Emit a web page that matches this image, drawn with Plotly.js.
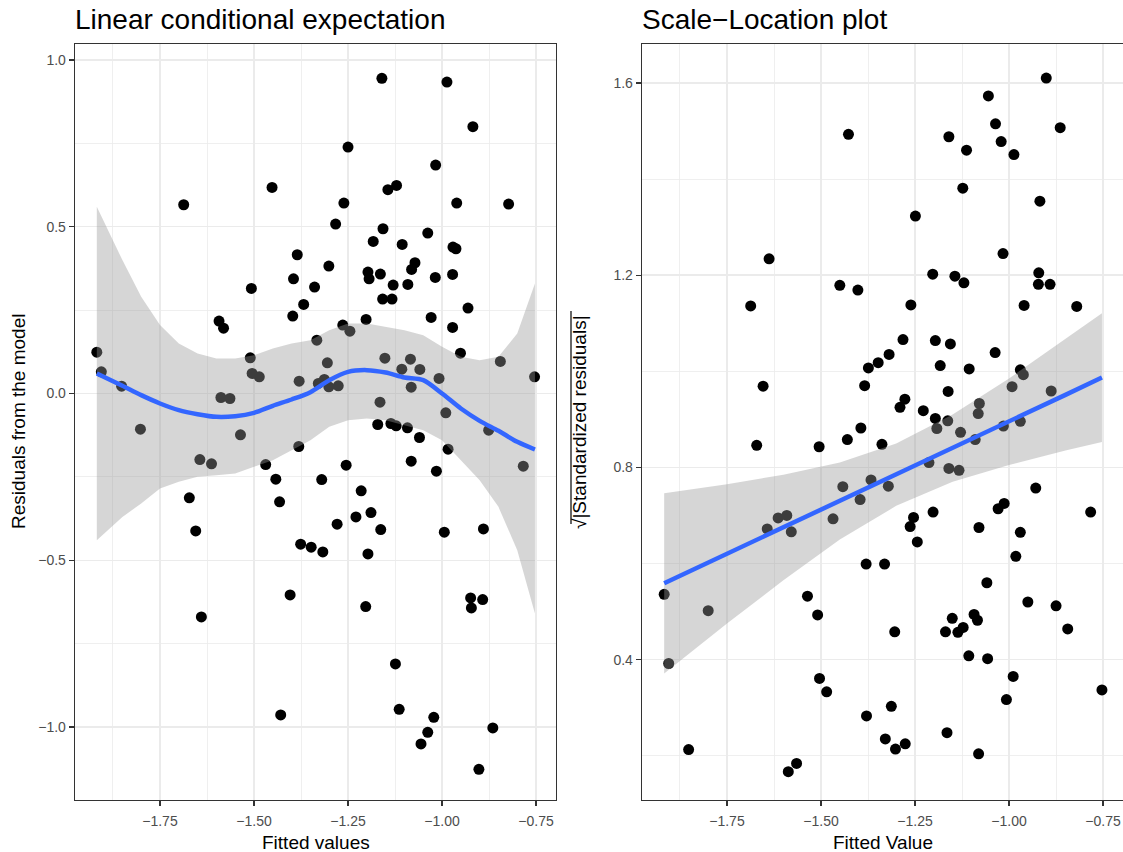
<!DOCTYPE html>
<html>
<head>
<meta charset="utf-8">
<script src="https://cdn.plot.ly/plotly-3.0.1.min.js"></script>
<style>
html,body{margin:0;padding:0;background:#fff;}
#chart{width:1123px;height:852px;}
</style>
</head>
<body>
<div id="chart"></div>
<script>
// ---------- Left panel: residuals vs fitted ----------
const fittedLeft = [
 -1.918,-1.906,-1.852,-1.802,-1.687,-1.452,-1.385,-1.395,-1.339,-1.507,
 -1.368,-1.397,-1.593,-1.581,-1.333,-1.510,-1.505,-1.486,-1.380,-1.588,
 -1.564,-1.536,-1.644,-1.613,-1.469,-1.381,-1.442,-1.672,-1.432,-1.655,
 -1.376,-1.348,-1.317,-1.404,-1.640,-1.429,-1.160,-0.987,-0.918,-1.250,
 -1.017,-1.144,-1.121,-1.261,-0.961,-0.823,-1.283,-1.157,-1.038,-1.183,
 -1.106,-0.971,-0.963,-1.301,-1.072,-1.081,-1.197,-1.164,-1.194,-1.018,
 -0.972,-1.130,-1.091,-1.158,-1.133,-0.931,-1.029,-1.202,-0.972,-1.264,
 -1.245,-0.951,-1.152,-1.084,-1.305,-1.107,-1.059,-0.845,-0.754,-1.329,
 -1.313,-1.301,-1.276,-1.008,-1.082,-1.165,-0.990,-1.171,-1.136,-1.122,
 -1.092,-0.876,-0.784,-1.060,-0.984,-1.255,-1.082,-1.015,-1.320,-1.215,
 -1.229,-1.189,-1.279,-1.163,-0.994,-0.890,-1.197,-1.203,-0.924,-0.892,
 -0.922,-1.124,-1.114,-1.022,-1.038,-1.056,-0.865,-0.902
];
const residuals = [
  0.124, 0.065, 0.022,-0.107, 0.566, 0.618, 0.416, 0.344, 0.319, 0.315,
  0.267, 0.232, 0.217, 0.196, 0.160, 0.107, 0.060, 0.050, 0.037,-0.012,
 -0.015,-0.124,-0.198,-0.211,-0.213,-0.159,-0.257,-0.313,-0.325,-0.412,
 -0.452,-0.461,-0.475,-0.604,-0.670,-0.964, 0.945, 0.934, 0.800, 0.739,
  0.685, 0.611, 0.624, 0.571, 0.571, 0.568, 0.508, 0.494, 0.481, 0.456,
  0.447, 0.439, 0.434, 0.382, 0.392, 0.372, 0.364, 0.358, 0.344, 0.348,
  0.357, 0.325, 0.327, 0.283, 0.283, 0.256, 0.228, 0.222, 0.198, 0.205,
  0.187, 0.121, 0.106, 0.103, 0.092, 0.073, 0.072, 0.096, 0.050, 0.030,
  0.042, 0.020, 0.023, 0.045, 0.019,-0.026,-0.058,-0.093,-0.090,-0.097,
 -0.103,-0.110,-0.218,-0.132,-0.167,-0.215,-0.203,-0.233,-0.258,-0.292,
 -0.370,-0.357,-0.392,-0.408,-0.416,-0.406,-0.481,-0.639,-0.613,-0.618,
 -0.643,-0.811,-0.947,-0.971,-1.016,-1.051,-1.003,-1.127
];
// loess smooth and its confidence band
const loessX     = [-1.918,-1.85,-1.80,-1.75,-1.70,-1.65,-1.60,-1.55,-1.50,-1.45,-1.40,-1.35,-1.30,-1.25,-1.20,-1.15,-1.10,-1.05,-1.00,-0.95,-0.90,-0.85,-0.80,-0.753];
const loessFit   = [0.060,0.023,-0.005,-0.030,-0.050,-0.062,-0.070,-0.068,-0.058,-0.037,-0.018,0.004,0.040,0.065,0.070,0.063,0.048,0.040,0.000,-0.045,-0.082,-0.112,-0.145,-0.168];
const loessUpper = [0.56,0.40,0.29,0.205,0.15,0.12,0.105,0.105,0.115,0.135,0.15,0.16,0.19,0.21,0.21,0.20,0.19,0.175,0.14,0.11,0.10,0.11,0.18,0.33];
const loessLower = [-0.44,-0.37,-0.33,-0.285,-0.265,-0.25,-0.245,-0.24,-0.22,-0.20,-0.17,-0.14,-0.10,-0.08,-0.075,-0.08,-0.095,-0.11,-0.14,-0.20,-0.26,-0.34,-0.47,-0.66];

// ---------- Right panel: scale-location ----------
const fittedRight = [
 -1.917,-1.905,-1.852,-1.800,-1.687,-1.654,-1.638,-1.587,-1.565,-1.536,
 -1.505,-1.509,-1.504,-1.485,-1.450,-1.427,-1.402,-1.384,-1.394,-1.379,
 -1.374,-1.348,-1.319,-1.282,-1.261,-1.249,-1.331,-1.313,-1.329,-1.302,
 -1.276,-1.244,-1.254,-1.263,-1.202,-1.196,-1.203,-1.160,-1.156,-1.144,
 -1.123,-1.120,-1.113,-1.107,-1.055,-1.036,-1.021,-0.987,-1.016,-0.918,
 -0.901,-0.864,-0.960,-0.921,-0.922,-0.891,-0.820,-0.783,-0.753,-1.057,
 -0.989,-1.007,-1.081,-1.165,-0.950,-0.875,-0.844,-1.059,-0.982,-0.970,
 -1.080,-1.029,-1.013,-0.929,-1.169,-1.136,-1.122,-1.151,-1.093,-1.084,
 -1.304,-1.671,-1.643,-1.614,-1.591,-1.579,-1.468,-1.442,-1.396,-1.380,
 -1.367,-1.338,-1.321,-1.213,-1.160,-1.133,-1.090,-1.430,-1.290,-1.277,
 -1.228,-1.196,-1.163,-1.192,-1.129,-1.079,-1.082,-1.015,-0.970,-0.992,
 -0.888,-1.162,-1.183,-1.106,-0.970,-0.962,-1.037
];
const sqrtStdResid = [
 0.536,0.392,0.213,0.502,1.136,0.969,1.234,0.167,0.184,0.532,
 0.843,0.493,0.361,0.333,1.179,1.493,1.169,0.970,0.882,0.283,
 1.007,1.018,1.035,1.066,1.138,1.323,0.599,0.303,0.235,0.214,
 0.225,0.645,0.696,0.677,0.707,1.064,1.202,1.488,1.057,1.198,
 1.381,1.184,1.460,0.408,1.573,1.515,1.478,1.451,1.245,1.354,
 1.610,1.507,1.137,1.205,1.181,1.181,1.135,0.707,0.337,0.402,
 0.365,0.317,0.204,0.248,0.520,0.512,0.464,0.560,0.615,0.665,
 0.675,0.714,0.725,0.757,0.458,0.457,0.467,0.486,0.494,0.482,
 0.458,0.846,0.672,0.695,0.700,0.666,0.693,0.760,0.733,0.599,
 0.774,0.848,0.761,0.810,0.798,0.794,0.858,0.858,0.925,0.942,
 0.918,0.902,0.897,0.881,0.873,0.933,0.912,0.886,0.896,0.968,
 0.959,0.958,1.012,1.005,1.003,0.993,1.039
];
const lmX     = [-1.917,-1.75,-1.60,-1.45,-1.30,-1.15,-1.00,-0.85,-0.753];
const lmFit   = [0.559,0.620,0.676,0.731,0.786,0.841,0.896,0.951,0.987];
const lmUpper = [0.746,0.765,0.785,0.810,0.850,0.910,0.985,1.067,1.121];
const lmLower = [0.371,0.475,0.565,0.650,0.720,0.770,0.805,0.835,0.853];

const xTickVals = [-1.75,-1.50,-1.25,-1.00,-0.75];

// ---------- styling ----------
const FONT = 'Liberation Sans, Arial, Helvetica, sans-serif';
const W = 1123, H = 852;
const px = v => v / W;
const py = v => 1 - v / H;
const BAND = 'rgba(153,153,153,0.4)';
const BLUE = '#3366FF';

function band(x, up, lo) {
  return { x: x.concat(x.slice().reverse()), y: up.concat(lo.slice().reverse()) };
}
const b1 = band(loessX, loessUpper, loessLower);
const b2 = band(lmX, lmUpper, lmLower);

const traces = [
  {x: fittedLeft, y: residuals, type: 'scatter', mode: 'markers',
   marker: {color: '#000', size: 11}, xaxis: 'x', yaxis: 'y', hoverinfo: 'skip'},
  {x: b1.x, y: b1.y, type: 'scatter', mode: 'lines', fill: 'toself', fillcolor: BAND,
   line: {width: 0, color: 'rgba(0,0,0,0)'}, xaxis: 'x', yaxis: 'y', hoverinfo: 'skip'},
  {x: loessX, y: loessFit, type: 'scatter', mode: 'lines', line: {color: BLUE, width: 4.5, shape: 'spline', smoothing: 0.8},
   xaxis: 'x', yaxis: 'y', hoverinfo: 'skip'},

  {x: fittedRight, y: sqrtStdResid, type: 'scatter', mode: 'markers',
   marker: {color: '#000', size: 11}, xaxis: 'x2', yaxis: 'y2', hoverinfo: 'skip'},
  {x: b2.x, y: b2.y, type: 'scatter', mode: 'lines', fill: 'toself', fillcolor: BAND,
   line: {width: 0, color: 'rgba(0,0,0,0)'}, xaxis: 'x2', yaxis: 'y2', hoverinfo: 'skip'},
  {x: lmX, y: lmFit, type: 'scatter', mode: 'lines', line: {color: BLUE, width: 4.5},
   xaxis: 'x2', yaxis: 'y2', hoverinfo: 'skip'}
];

const axisCommon = {
  showline: true, mirror: true, linecolor: '#333333', linewidth: 1.3,
  ticks: 'outside', ticklen: 5, tickwidth: 1.3, tickcolor: '#333333',
  showgrid: true, gridcolor: '#EBEBEB', gridwidth: 1.4,
  zeroline: false,
  tickfont: {family: FONT, size: 14, color: '#4D4D4D'},
  fixedrange: true
};
const xCommon = Object.assign({}, axisCommon, {
  tickmode: 'array', tickvals: xTickVals, tickformat: '.2f', ticklabelstandoff: 3,
  minor: {dtick: 0.125, tick0: -1.75, showgrid: true, gridcolor: '#EBEBEB', gridwidth: 0.8, ticks: ''}
});

const yTop = py(44), yBot = py(800);

const layout = {
  width: W, height: H,
  margin: {l: 0, r: 0, t: 0, b: 0},
  paper_bgcolor: '#fff', plot_bgcolor: '#fff',
  showlegend: false,
  font: {family: FONT, color: '#000'},
  xaxis: Object.assign({}, xCommon, {domain: [px(75), px(556)], range: [-1.976, -0.697], anchor: 'y'}),
  yaxis: Object.assign({}, axisCommon, {domain: [yBot, yTop], range: [-1.219, 1.048], anchor: 'x',
    tickmode: 'linear', tick0: 0, dtick: 0.5, tickformat: '.1f',
    minor: {dtick: 0.25, tick0: 0, showgrid: true, gridcolor: '#EBEBEB', gridwidth: 0.8, ticks: ''}}),
  xaxis2: Object.assign({}, xCommon, {domain: [px(642), 1], range: [-1.976, -0.697], anchor: 'y2'}),
  yaxis2: Object.assign({}, axisCommon, {domain: [yBot, yTop], range: [0.108, 1.681], anchor: 'x2',
    tickmode: 'linear', tick0: 0.4, dtick: 0.4, tickformat: '.1f',
    minor: {dtick: 0.2, tick0: 0.2, showgrid: true, gridcolor: '#EBEBEB', gridwidth: 0.8, ticks: ''}}),
  annotations: [
    {text: 'Linear conditional expectation', xref: 'paper', yref: 'paper', x: px(73), y: py(19),
     xanchor: 'left', yanchor: 'middle', showarrow: false, font: {family: FONT, size: 28, color: '#000'}},
    {text: 'Scale\u2212Location plot', xref: 'paper', yref: 'paper', x: px(640), y: py(19),
     xanchor: 'left', yanchor: 'middle', showarrow: false, font: {family: FONT, size: 28, color: '#000'}},
    {text: 'Fitted values', xref: 'paper', yref: 'paper', x: px(315.5), y: py(842),
     xanchor: 'center', yanchor: 'middle', showarrow: false, font: {family: FONT, size: 19, color: '#000'}},
    {text: 'Fitted Value', xref: 'paper', yref: 'paper', x: px(882.5), y: py(842),
     xanchor: 'center', yanchor: 'middle', showarrow: false, font: {family: FONT, size: 19, color: '#000'}},
    {text: 'Residuals from the model', xref: 'paper', yref: 'paper', x: px(19), y: py(422),
     xanchor: 'center', yanchor: 'middle', textangle: -90, showarrow: false, font: {family: FONT, size: 19, color: '#000'}},
    {text: '\u221A|Standardized residuals|', xref: 'paper', yref: 'paper', x: px(580), y: py(422),
     xanchor: 'center', yanchor: 'middle', textangle: -90, showarrow: false, font: {family: FONT, size: 19, color: '#000'}}
  ],
  shapes: [
    {type: 'line', xref: 'paper', yref: 'paper', x0: px(571), x1: px(571), y0: py(311), y1: py(524),
     line: {color: '#000', width: 1.2}}
  ]
};

Plotly.newPlot('chart', traces, layout, {displayModeBar: false, staticPlot: true});
</script>
</body>
</html>
